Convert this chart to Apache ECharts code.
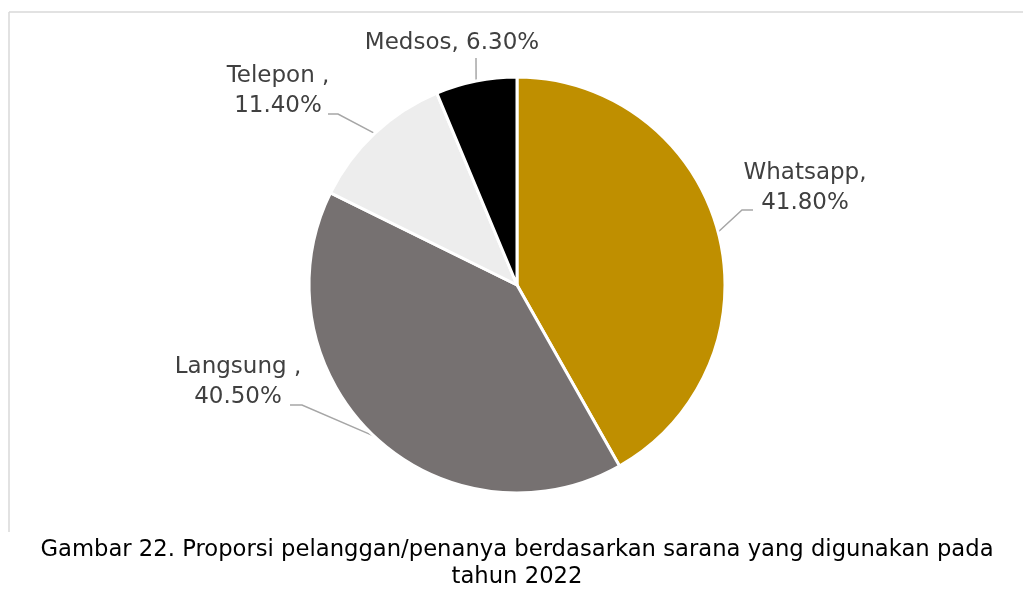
<!DOCTYPE html>
<html>
<head>
<meta charset="utf-8">
<script src="https://cdn.jsdelivr.net/npm/echarts@6/dist/echarts.min.js"></script>
<style>
  html, body { margin: 0; padding: 0; background: #fff; }
  #chart { width: 1023px; height: 612px; }
</style>
</head>
<body>
<div id="chart"></div>
<script>
// data
const names = ['Whatsapp', 'Langsung ', 'Telepon ', 'Medsos']
const values = [41.8, 40.5, 11.4, 6.3]
const colors = ['#bf8f00', '#767171', '#ededed', '#000000']
// separator between name and value in each label
const labelSep = [',\n', ',\n', ',\n', ', ']
// label centres (px)
const labelPos = [[805, 188], [238, 382], [278, 91], [452, 43]]
// leader line: bend point and end point next to the label (px)
const leaderBend = [[742, 210], [302, 405], [338, 114], [476, 60]]
const leaderEnd = [[753, 210], [290, 405], [328, 114], [476, 58]]

const captionText = 'Gambar 22. Proporsi pelanggan/penanya berdasarkan sarana yang digunakan pada\ntahun 2022'

const chart = echarts.init(document.getElementById('chart'))
chart.setOption({
  animation: false,
  graphic: [
    { type: 'line', shape: { x1: 9, y1: 12, x2: 1023, y2: 12 }, style: { stroke: '#d9d9d9', lineWidth: 1.5 } },
    { type: 'line', shape: { x1: 9, y1: 12, x2: 9, y2: 532 }, style: { stroke: '#d9d9d9', lineWidth: 1.5 } },
    {
      type: 'text',
      x: 517,
      y: 537,
      style: {
        text: captionText,
        align: 'center',
        verticalAlign: 'top',
        font: '22.7px "DejaVu Sans"',
        lineHeight: 27,
        fill: '#000'
      }
    }
  ],
  series: [{
    type: 'pie',
    center: [517, 285],
    radius: 208,
    startAngle: 90,
    clockwise: true,
    data: names.map((n, i) => ({ name: n, value: values[i], itemStyle: { color: colors[i] } })),
    itemStyle: {
      borderColor: '#fff',
      borderWidth: 3
    },
    label: {
      show: true,
      position: 'outside',
      fontFamily: 'DejaVu Sans',
      fontSize: 23,
      color: '#404040',
      lineHeight: 30,
      align: 'center',
      formatter: (p) => p.name + labelSep[p.dataIndex] + p.value.toFixed(2) + '%'
    },
    labelLine: {
      show: true,
      length: 10,
      length2: 10,
      lineStyle: { color: '#a6a6a6', width: 1.5 }
    },
    labelLayout: (p) => {
      const i = p.dataIndex
      const out = {
        x: labelPos[i][0],
        y: labelPos[i][1],
        align: 'center',
        verticalAlign: 'middle'
      }
      if (p.labelLinePoints && p.labelLinePoints[0]) {
        out.labelLinePoints = [p.labelLinePoints[0], leaderBend[i], leaderEnd[i]]
      }
      return out
    }
  }]
})
</script>
</body>
</html>
